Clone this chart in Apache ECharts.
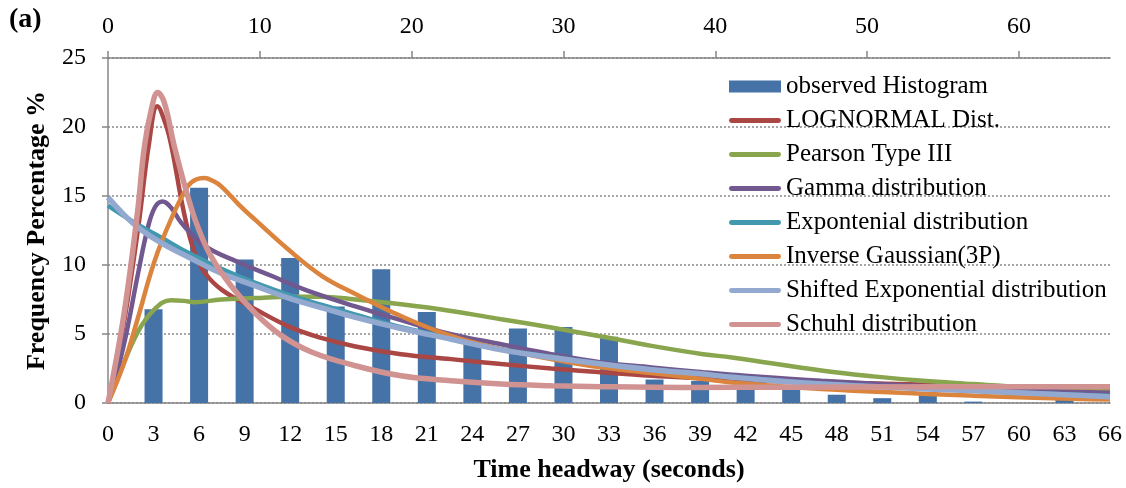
<!DOCTYPE html>
<html>
<head>
<meta charset="utf-8">
<script src="https://cdn.jsdelivr.net/npm/echarts@6/dist/echarts.min.js"></script>
<style>html,body{margin:0;padding:0;background:#fff}#c{width:1126px;height:488px}</style>
</head>
<body>
<div id="c"></div>
<script>
// ---- data ----
var seriesNames = ['observed Histogram','LOGNORMAL Dist.','Pearson Type III','Gamma distribution','Expontenial distribution','Inverse Gaussian(3P)','Shifted Exponential distribution','Schuhl distribution'];
var bottomTicks = [0,3,6,9,12,15,18,21,24,27,30,33,36,39,42,45,48,51,54,57,60,63,66];
var topTicks = [0,10,20,30,40,50,60];
var histogram = [[3,6.8],[6,15.6],[9,10.4],[12,10.5],[15,7.0],[18,9.7],[21,6.6],[24,4.5],[27,5.4],[30,5.5],[33,4.8],[36,1.7],[39,1.6],[42,1.3],[45,1.2],[48,0.6],[51,0.35],[54,0.7],[57,0.1],[60,0],[63,0.5],[66,0]];
var lognormal = [[0,0],[1,5.5],[2,12.8],[2.7,18.8],[3.25,21.5],[3.8,20.2],[4.2,18.5],[5.0,13.8],[5.7,10.9],[6.4,9.4],[7.5,8.2],[9.7,6.8],[12,5.5],[14.1,4.7],[16.3,4.1],[19.3,3.54],[22.6,3.18],[25.9,2.82],[29.2,2.5],[32.5,2.22],[35.8,1.97],[39.2,1.78],[41.1,1.68],[47,1.5],[57,1.25],[66,1.05]];
var pearson3 = [[0,0],[0.62,1.75],[1.94,5.1],[3.04,6.77],[4.15,7.45],[5.0,7.4],[5.7,7.3],[7.46,7.5],[9.67,7.6],[11.9,7.7],[14,7.7],[16.3,7.5],[19.3,7.15],[22.6,6.67],[25.9,6.07],[29.2,5.47],[32.5,4.82],[35.8,4.14],[39.2,3.54],[41.1,3.3],[47.1,2.34],[50.4,1.93],[53.7,1.61],[57,1.37],[60.3,1.13],[66,0.82]];
var gamma = [[0,0],[1,4],[2,9.5],[2.6,12.6],[3.1,14.2],[3.6,14.6],[4.2,14.1],[4.8,13.1],[6.35,11.4],[8.6,10.2],[10.8,9.2],[13,8.2],[16.3,7.0],[19.3,6.0],[22.6,4.99],[25.9,4.26],[29.2,3.54],[32.5,2.94],[35.8,2.58],[39.2,2.22],[41.1,2.05],[47,1.61],[57,1.06],[66,0.72]];
var exponential = [[0,14.3],[2,12.9],[3.5,12.0],[5.25,10.9],[7.5,9.7],[9.7,8.7],[12,7.8],[14.1,7.1],[16.3,6.4],[19.3,5.5],[22.6,4.7],[25.9,3.9],[29.2,3.35],[32.5,2.85],[35.8,2.43],[39.2,2.1],[41.1,1.9],[47,1.4],[57,0.9],[66,0.5]];
var invGaussian = [[0,0],[1.06,2.9],[1.94,6.05],[3.04,10.2],[4.15,13.3],[5.25,15.7],[5.8,16.2],[6.36,16.3],[6.9,16.1],[7.46,15.7],[8.6,14.4],[9.67,13.3],[11.9,11.1],[14.1,9.2],[16.3,7.9],[19.3,6.3],[22.6,4.86],[25.9,3.9],[29.2,3.18],[32.5,2.58],[35.8,2.17],[39.2,1.73],[41.1,1.49],[47,1.01],[57,0.53],[66,0.25]];
var shiftedExp = [[0,14.9],[1,13.7],[2,12.7],[3.5,11.6],[5.25,10.6],[7.46,9.4],[9.67,8.5],[11.9,7.6],[14.1,6.9],[16.3,6.2],[19.3,5.4],[22.6,4.62],[25.9,3.85],[29.2,3.3],[32.5,2.82],[35.8,2.41],[39.2,2.1],[41.1,1.86],[47,1.37],[57,0.89],[66,0.46]];
var schuhl = [[0,0],[1.06,6.5],[1.94,13.8],[2.4,18.6],[2.9,21.5],[3.27,22.5],[3.7,21.8],[4.37,18.6],[5.25,15.0],[5.9,12.8],[6.8,10.6],[8.1,8.5],[9.7,6.5],[11.4,4.9],[13.4,3.7],[16.3,2.7],[19.3,1.97],[22.6,1.61],[25.9,1.37],[29.2,1.25],[32.5,1.18],[38,1.13],[45,1.14],[55,1.17],[66,1.18]];

var colors = ['#4572A7','#AA4643','#89A54E','#71588F','#4198AF','#DB843D','#93A9CF','#D19392'];
var FONT = '"Liberation Serif", "Times New Roman", serif';
var axisGray = '#868686';

var chart = echarts.init(document.getElementById('c'), null, {renderer:'canvas'});
var lineData = [lognormal, pearson3, gamma, exponential, invGaussian, shiftedExp, schuhl];
var widths = [4.5,4.5,4.5,4.5,4.5,5.5,5.5];
var series = [{
  name: seriesNames[0], type:'bar', xAxisIndex:0, yAxisIndex:0,
  data: histogram, barWidth: 18,
  itemStyle:{color:colors[0]}
}];
lineData.forEach(function(d,i){
  series.push({
    name: seriesNames[i+1], type:'line', xAxisIndex:0, yAxisIndex:0,
    data: d, smooth: 0.4, symbol:'none', showSymbol:false,
    lineStyle:{color:colors[i+1], width:widths[i]},
    itemStyle:{color:colors[i+1]}
  });
});

var lineIcon = 'path://M2,0 L50,0 A2.5,2.5 0 0 1 50,5 L2,5 A2.5,2.5 0 0 1 2,0 Z';

chart.setOption({
  animation:false,
  backgroundColor:'#fff',
  grid:{left:108, right:16, top:58, bottom:84, containLabel:false},
  graphic:[{type:'text', left:9, top:6, style:{text:'(a)', font:'bold 28px '+FONT, fill:'#000'}}],
  legend:{
    orient:'vertical', left:729, top:74, padding:0, itemWidth:52, itemHeight:12, itemGap:9,
    symbolKeepAspect:true,
    textStyle:{fontFamily:FONT, fontSize:25, color:'#000', lineHeight:25},
    data: seriesNames.map(function(n,i){ return i===0 ? {name:n, icon:'rect'} : {name:n, icon:lineIcon}; })
  },
  xAxis:[{
    type:'value', position:'bottom', min:0, max:66, interval:3,
    axisLine:{show:true, lineStyle:{color:axisGray, width:1.5}},
    axisTick:{show:false},
    splitLine:{show:false},
    axisLabel:{fontFamily:FONT, fontSize:24, color:'#000', margin:20},
    name:'Time headway (seconds)', nameLocation:'middle', nameGap:54,
    nameTextStyle:{fontFamily:FONT, fontSize:26, fontWeight:'bold', color:'#000'}
  },{
    type:'value', position:'top', min:0, max:66,
    axisLine:{show:true, lineStyle:{color:axisGray, width:1.5}},
    axisTick:{show:true, length:7, customValues: topTicks, lineStyle:{color:axisGray, width:1.5}},
    splitLine:{show:false},
    axisLabel:{fontFamily:FONT, fontSize:24, color:'#000', margin:19, customValues: topTicks}
  }],
  yAxis:[{
    type:'value', min:0, max:25, interval:5,
    axisLine:{show:true, lineStyle:{color:axisGray, width:1.5}},
    axisTick:{show:true, length:6, lineStyle:{color:axisGray, width:1.5}},
    splitLine:{show:true, lineStyle:{color:'#8a8a8a', width:1.5, type:[2,2]}},
    axisLabel:{fontFamily:FONT, fontSize:24, color:'#000', margin:22},
    name:'Frequency Percentage %', nameLocation:'middle', nameGap:58,
    nameTextStyle:{fontFamily:FONT, fontSize:26, fontWeight:'bold', color:'#000'}
  }],
  series: series
});
</script>
</body>
</html>
